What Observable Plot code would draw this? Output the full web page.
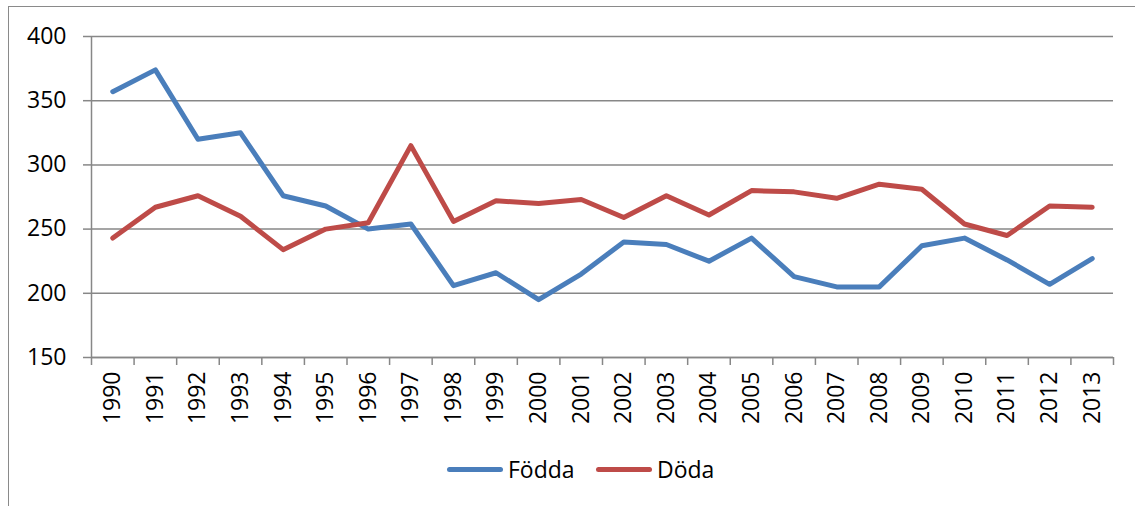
<!DOCTYPE html>
<html>
<head>
<meta charset="utf-8">
<script src="https://cdn.jsdelivr.net/npm/d3@7"></script>
<script src="https://cdn.jsdelivr.net/npm/@observablehq/plot@0.6"></script>
<style>
  html, body { margin: 0; padding: 0; background: #fff; overflow: hidden; }
  #wrap { position: relative; width: 1135px; height: 506px; font-family: "Open Sans", sans-serif; }
  #frame { position: absolute; left: 8px; top: 6px; right: -4px; bottom: -4px; border: 1.5px solid #8a8a8a; pointer-events: none; }
  #chart { position: absolute; left: 0; top: 0; }
  #legend { position: absolute; left: 0; top: 452px; width: 1135px; height: 34px; }
  .item { position: absolute; top: 0; display: flex; align-items: center; height: 34px; font-size: 23px; color: #000; }
  .swatch { width: 56px; height: 5px; border-radius: 3px; margin-right: 5px; }
</style>
</head>
<body>
<div id="wrap">
  <div id="frame"></div>
  <div id="chart"></div>
  <div id="legend"></div>
</div>
<script>
const years = [1990,1991,1992,1993,1994,1995,1996,1997,1998,1999,2000,2001,2002,2003,2004,2005,2006,2007,2008,2009,2010,2011,2012,2013];
const fodda = [357,374,320,325,276,268,250,254,206,216,195,215,240,238,225,243,213,205,205,237,243,226,207,227];
const doda  = [243,267,276,260,234,250,255,315,256,272,270,273,259,276,261,280,279,274,285,281,254,245,268,267];
const seriesNames = ["Födda", "Döda"];
const seriesColors = ["#4a7ebb", "#be4b48"];
const yTicks = [150,200,250,300,350,400];

const rows = [];
years.forEach((y, i) => {
  rows.push({year: y, value: fodda[i], series: seriesNames[0]});
  rows.push({year: y, value: doda[i], series: seriesNames[1]});
});
const bounds = years.map(y => y - 0.5).concat([years[years.length - 1] + 0.5]);

const chart = Plot.plot({
  width: 1135,
  height: 440,
  marginLeft: 91,
  marginRight: 22,
  marginTop: 36,
  marginBottom: 83,
  style: {fontFamily: "Open Sans, sans-serif", fontSize: "23px", color: "#000", background: "transparent"},
  x: {type: "linear", domain: [bounds[0], bounds[bounds.length - 1]], axis: null},
  y: {domain: [150, 400], axis: null},
  color: {domain: seriesNames, range: seriesColors},
  marks: [
    Plot.gridY(yTicks, {stroke: "#878787", strokeOpacity: 1, strokeWidth: 1.5}),
    Plot.axisY(yTicks, {tickSize: 8, tickPadding: 17, stroke: "#878787", strokeWidth: 1.5, fontSize: 23, fill: "#000", label: null}),
    Plot.ruleX([bounds[0]], {y1: 150, y2: 400, stroke: "#878787", strokeWidth: 1.5}),
    Plot.ruleY([150], {stroke: "#878787", strokeWidth: 1.5}),
    Plot.axisX(bounds, {tickSize: 8, tickFormat: () => "", stroke: "#878787", strokeWidth: 1.5, label: null}),
    Plot.axisX(years, {tickSize: 0, tickPadding: 14, tickRotate: -90, tickFormat: d => String(d), fontSize: 23, fill: "#000", label: null}),
    Plot.line(rows, {x: "year", y: "value", z: "series", stroke: "series", strokeWidth: 5, strokeLinejoin: "round", strokeLinecap: "round"})
  ]
});
document.getElementById("chart").appendChild(chart);

const legend = document.getElementById("legend");
const lefts = [447, 596];
seriesNames.forEach((name, i) => {
  const item = document.createElement("div");
  item.className = "item";
  item.style.left = lefts[i] + "px";
  const sw = document.createElement("div");
  sw.className = "swatch";
  sw.style.background = seriesColors[i];
  const label = document.createElement("span");
  label.textContent = name;
  item.appendChild(sw);
  item.appendChild(label);
  legend.appendChild(item);
});
</script>
</body>
</html>
